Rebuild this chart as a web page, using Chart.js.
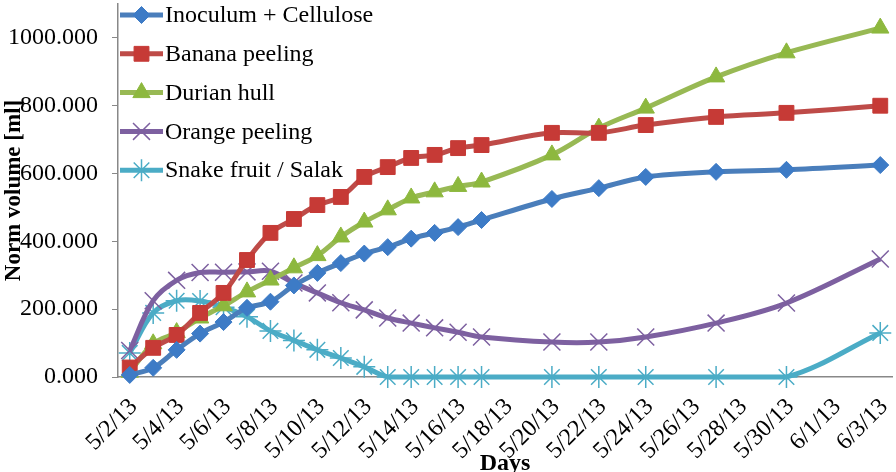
<!DOCTYPE html>
<html>
<head>
<meta charset="utf-8">
<script src="https://cdn.jsdelivr.net/npm/chart.js@4/dist/chart.umd.min.js"></script>
<style>
  html, body { margin: 0; padding: 0; background: #fff; overflow: hidden; }
  #wrap { width: 896px; height: 472px; position: relative; }
</style>
</head>
<body>
<div id="wrap"><canvas id="c" width="896" height="472"></canvas></div>
<script>
// ---- data ----
const dates = ['5/2/13','5/3/13','5/4/13','5/5/13','5/6/13','5/7/13','5/8/13','5/9/13','5/10/13','5/11/13',
  '5/12/13','5/13/13','5/14/13','5/15/13','5/16/13','5/17/13','5/20/13','5/22/13','5/24/13','5/27/13','5/30/13','6/3/13'];
const tickLabels = ['5/2/13','5/4/13','5/6/13','5/8/13','5/10/13','5/12/13','5/14/13','5/16/13','5/18/13',
  '5/20/13','5/22/13','5/24/13','5/26/13','5/28/13','5/30/13','6/1/13','6/3/13'];
const seriesNames = ['Inoculum + Cellulose','Banana peeling','Durian hull','Orange peeling','Snake fruit / Salak'];
const inoculum = [6,27,80,128,162,204,222,270,307,336,364,383,408,425,442,463,525,557,590,605,611,625];
const banana   = [28,86,124,189,248,345,425,466,507,531,590,619,646,655,675,684,720,720,743,767,779,800];
const durian   = [14,98,131,174,210,251,286,322,358,413,457,493,528,546,562,575,655,734,793,885,956,1029];
const orange   = [78,225,285,308,309,310,312,277,248,219,198,174,159,145,132,118,103,103,118,159,218,348];
const salak    = [71,189,225,224,206,178,136,108,80,56,30,0,0,0,0,0,0,0,0,0,0,130];
const yTicks = [0,200,400,600,800,1000];

// ---- helpers ----
const base = Date.UTC(2013,4,2);
function dayIndex(s){ const p = s.split('/').map(Number); return Math.round((Date.UTC(2000+p[2],p[0]-1,p[1]) - base)/86400000); }
const xs = dates.map(dayIndex);
const tickMap = {}; tickLabels.forEach(t => tickMap[dayIndex(t)] = t);
function pts(arr){ return arr.map((v,i) => ({x: xs[i], y: v})); }

const styles = [
  {line:'#4A7EBB', fill:'#3D7BC6', edge:'#3D7BC6', ps:'rectRot', r:8.5, bw:1},
  {line:'#BE4B48', fill:'#C63A36', edge:'#C63A36', ps:'rect', r:10.5, bw:1},
  {line:'#98B954', fill:'#8DB83E', edge:'#8DB83E', ps:'triangle', r:10, bw:1},
  {line:'#7D60A0', fill:'#7D60A0', edge:'#7D60A0', ps:'crossRot', r:12, bw:1.5},
  {line:'#4BACC6', fill:'#4BACC6', edge:'#4BACC6', ps:'star', r:11, bw:1.5}
];
const allSeries = [inoculum, banana, durian, orange, salak];

const datasets = allSeries.map((arr,i) => ({
  label: seriesNames[i],
  data: pts(arr),
  borderColor: styles[i].line,
  backgroundColor: styles[i].fill,
  pointBorderColor: styles[i].edge,
  pointBackgroundColor: styles[i].fill,
  pointStyle: styles[i].ps,
  pointRadius: styles[i].r,
  pointBorderWidth: styles[i].bw,
  borderWidth: 5,
  tension: 0.35,
  fill: false,
  clip: false
}));

const FONT = "'Liberation Serif', 'Times New Roman', serif";

const legendPlugin = {
  id: 'customLegend',
  afterDraw(chart){
    const ctx = chart.ctx;
    const ca = chart.chartArea;
    const x0 = ca.left + 2, x1 = ca.left + 45;
    const y0 = 15, gap = 38.8;
    ctx.save();
    chart.data.datasets.forEach((ds,i) => {
      const y = y0 + i*gap;
      ctx.strokeStyle = ds.borderColor; ctx.lineWidth = 5; ctx.lineCap = 'butt';
      ctx.beginPath(); ctx.moveTo(x0,y); ctx.lineTo(x1,y); ctx.stroke();
      ctx.fillStyle = ds.pointBackgroundColor; ctx.strokeStyle = ds.pointBorderColor;
      ctx.lineWidth = ds.pointBorderWidth;
      Chart.helpers.drawPoint(ctx, {pointStyle: ds.pointStyle, radius: ds.pointRadius, rotation: 0, borderWidth: ds.pointBorderWidth}, (x0+x1)/2, y);
      ctx.fillStyle = '#000'; ctx.font = '24px ' + FONT; ctx.textBaseline = 'middle'; ctx.textAlign = 'left';
      ctx.fillText(ds.label, x1 + 2, y + 1);
    });
    ctx.restore();
  }
};

new Chart(document.getElementById('c'), {
  type: 'line',
  data: { datasets },
  plugins: [legendPlugin],
  options: {
    responsive: false,
    animation: false,
    layout: { autoPadding: false, padding: { top: 4, right: 4, left: 0, bottom: 0 } },
    plugins: { legend: { display: false }, tooltip: { enabled: false } },
    scales: {
      x: {
        type: 'linear',
        min: -0.5, max: 32.5,
        afterBuildTicks(scale){ scale.ticks = tickLabels.map(t => ({value: dayIndex(t)})); },
        afterFit(scale){ scale.height = 95; scale.paddingRight = 0; scale.paddingLeft = 0; },
        grid: { display: false, drawTicks: false },
        border: { color: '#888888', width: 1.5 },
        ticks: {
          autoSkip: false, minRotation: 45, maxRotation: 45, padding: 16, labelOffset: 4,
          color: '#000', font: { family: FONT, size: 24 },
          callback: v => tickMap[v] || ''
        },
        title: { display: true, text: 'Days', color: '#000', font: { family: FONT, size: 24, weight: 'bold' }, padding: { top: 0, bottom: -6 } }
      },
      y: {
        min: 0, max: 1100,
        afterBuildTicks(scale){ scale.ticks = yTicks.map(v => ({value: v})); },
        afterFit(scale){ scale.width = 118; scale.paddingTop = 0; scale.paddingBottom = 0; },
        grid: { drawOnChartArea: false, drawTicks: true, tickLength: 6, color: '#888888' },
        border: { color: '#888888', width: 1.5 },
        ticks: { color: '#000', padding: 14, font: { family: FONT, size: 24 }, callback: v => v.toFixed(3) },
        title: { display: true, text: 'Norm volume [ml]', color: '#000', font: { family: FONT, size: 23, weight: 'bold' }, padding: { top: 0, bottom: 0 } }
      }
    }
  }
});
</script>
</body>
</html>
